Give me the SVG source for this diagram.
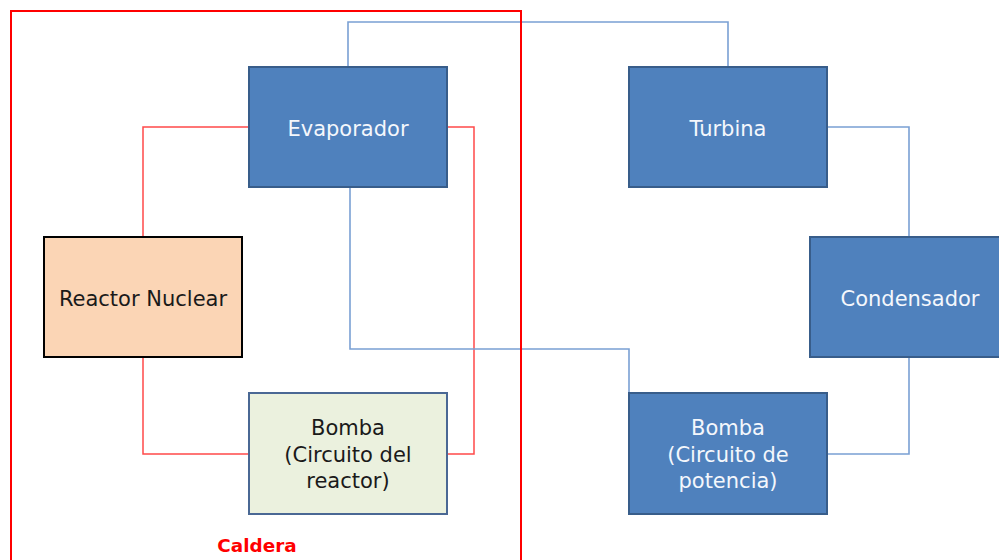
<svg xmlns="http://www.w3.org/2000/svg" width="999" height="560" viewBox="0 0 999 560">
  <style>
    .blue rect { fill: #4f81bd; stroke: #385d8a; stroke-width: 2; }
    .blue text { fill: #f4f7fc; }
    text { font-family: "DejaVu Sans", "Liberation Sans", sans-serif; font-size: 21px; text-anchor: middle; }
    .dark text { fill: #1a1a1a; }
    .pipe-red { fill: none; stroke: #ff4a4a; stroke-width: 1.5; }
    .pipe-blue { fill: none; stroke: #7aa0d4; stroke-width: 1.6; }
  </style>
  <rect width="999" height="560" fill="#ffffff"/>

  <!-- piping between the components -->
  <g id="connectors">
    <!-- reactor coolant loop -->
    <path class="pipe-red" d="M249 127 H143 V237"/>
    <path class="pipe-red" d="M143 357 V454 H249"/>
    <path class="pipe-red" d="M447 454 H474 V127 H447"/>
    <!-- steam / power loop -->
    <path class="pipe-blue" d="M348 67 V22 H728 V67"/>
    <path class="pipe-blue" d="M827 127 H909 V237"/>
    <path class="pipe-blue" d="M909 357 V454 H827"/>
    <path class="pipe-blue" d="M629 393 V349 H350 V187"/>
  </g>

  <!-- boiler boundary -->
  <g id="caldera">
    <rect x="11" y="11" width="510" height="560" fill="none" stroke="#ff0000" stroke-width="2"/>
    <text x="257" y="552" font-weight="bold" fill="#ff0000" style="font-size:18.4px">Caldera</text>
  </g>

  <g id="evaporador" class="blue">
    <rect x="249" y="67" width="198" height="120"/>
    <text x="348" y="136">Evaporador</text>
  </g>

  <g id="turbina" class="blue">
    <rect x="629" y="67" width="198" height="120"/>
    <text x="728" y="136">Turbina</text>
  </g>

  <g id="reactor" class="dark">
    <rect x="44" y="237" width="198" height="120" fill="#fbd5b5" stroke="#000000" stroke-width="2"/>
    <text x="143" y="306">Reactor Nuclear</text>
  </g>

  <g id="condensador" class="blue">
    <rect x="810" y="237" width="198" height="120"/>
    <text x="910" y="306">Condensador</text>
  </g>

  <g id="bomba-reactor" class="dark">
    <rect x="249" y="393" width="198" height="121" fill="#ebf1de" stroke="#4a6894" stroke-width="2"/>
    <text x="348" y="435">Bomba</text>
    <text x="348" y="461.5">(Circuito del</text>
    <text x="348" y="488">reactor)</text>
  </g>

  <g id="bomba-potencia" class="blue">
    <rect x="629" y="393" width="198" height="121"/>
    <text x="728" y="435">Bomba</text>
    <text x="728" y="461.5">(Circuito de</text>
    <text x="728" y="488">potencia)</text>
  </g>
</svg>
